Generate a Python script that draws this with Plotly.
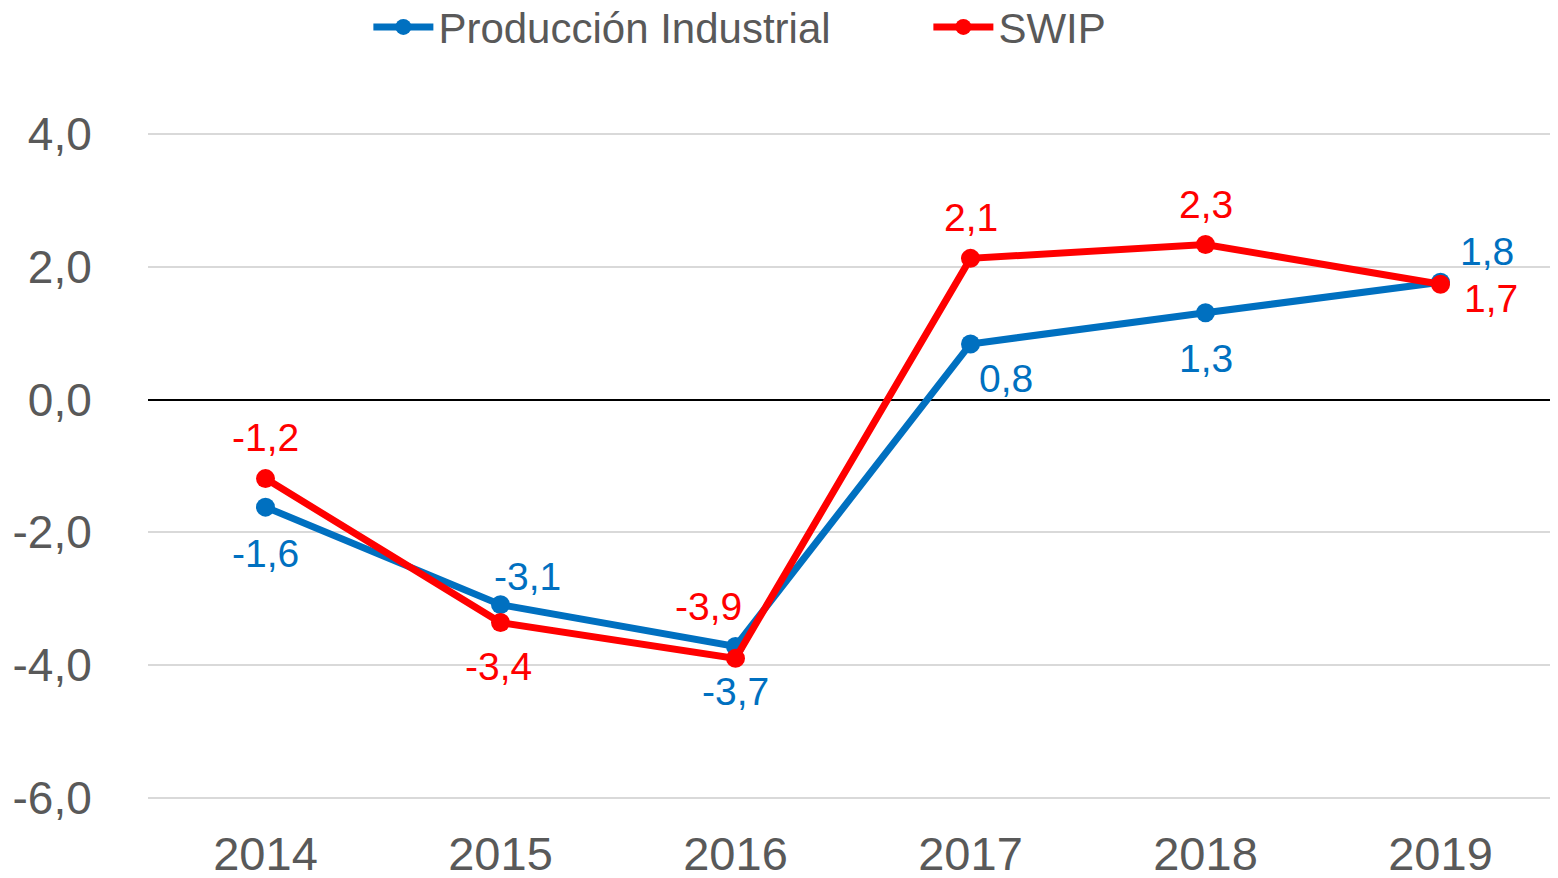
import plotly.graph_objects as go

years = ["2014", "2015", "2016", "2017", "2018", "2019"]
prod_industrial = [-1.62, -3.09, -3.72, 0.84, 1.31, 1.77]
swip = [-1.19, -3.36, -3.90, 2.13, 2.34, 1.74]
y_ticks = [-6, -4, -2, 0, 2, 4]

BLUE = "#0070C0"
RED = "#FF0000"
GRAY = "#595959"
FONT = "Liberation Sans, Arial, sans-serif"

# label offsets (pixels) for each point: (xshift, yshift)
blue_off = [(0, -46), (27, 28), (0, -45), (35, -35), (0, -46), (46, 31)]
red_off = [(0, 41), (-2, -44), (-27, 52), (0, 41), (0, 40), (50, -14)]

def fmt(v):
    return f"{v:.1f}".replace(".", ",")

fig = go.Figure()
fig.add_trace(go.Scatter(x=years, y=prod_industrial, mode="lines+markers",
                         name="Producción Industrial",
                         line=dict(color=BLUE, width=7),
                         marker=dict(color=BLUE, size=19)))
fig.add_trace(go.Scatter(x=years, y=swip, mode="lines+markers", name="SWIP",
                         line=dict(color=RED, width=7),
                         marker=dict(color=RED, size=19)))

annotations = []
for vals, offs, col in [(prod_industrial, blue_off, BLUE), (swip, red_off, RED)]:
    for i, (v, (dx, dy)) in enumerate(zip(vals, offs)):
        annotations.append(dict(xref="x", yref="y", x=i, y=v, text=fmt(v),
                                showarrow=False, xshift=dx, yshift=dy,
                                xanchor="center", yanchor="middle",
                                font=dict(color=col, size=39)))
fig.update_layout(annotations=annotations)

fig.update_layout(
    width=1550, height=870,
    margin=dict(l=140, r=0, t=125, b=79),
    plot_bgcolor="white", paper_bgcolor="white",
    font=dict(family=FONT, color=GRAY),
    showlegend=True,
    legend=dict(orientation="h", yref="container", y=0.978, yanchor="middle",
                xref="container", x=0.2325, xanchor="left",
                font=dict(size=42, color=GRAY), entrywidth=485,
                entrywidthmode="pixels", itemwidth=60,
                bgcolor="rgba(0,0,0,0)"),
)
fig.update_xaxes(type="category", range=[-0.5, 5.5], showgrid=False,
                 showline=False, zeroline=False, automargin=False,
                 ticks="outside", ticklen=14, tickcolor="rgba(0,0,0,0)",
                 tickfont=dict(size=47, color=GRAY))
fig.update_yaxes(range=[-6.02, 4.02], tickvals=y_ticks,
                 ticktext=[fmt(v) for v in y_ticks],
                 showgrid=True, gridcolor="#D9D9D9", gridwidth=1.5,
                 zeroline=True, zerolinecolor="black", zerolinewidth=1.5,
                 showline=False, automargin=False, ticks="outside", ticklen=46,
                 tickcolor="rgba(0,0,0,0)",
                 tickfont=dict(size=46, color=GRAY))

fig.write_html("out.html")
